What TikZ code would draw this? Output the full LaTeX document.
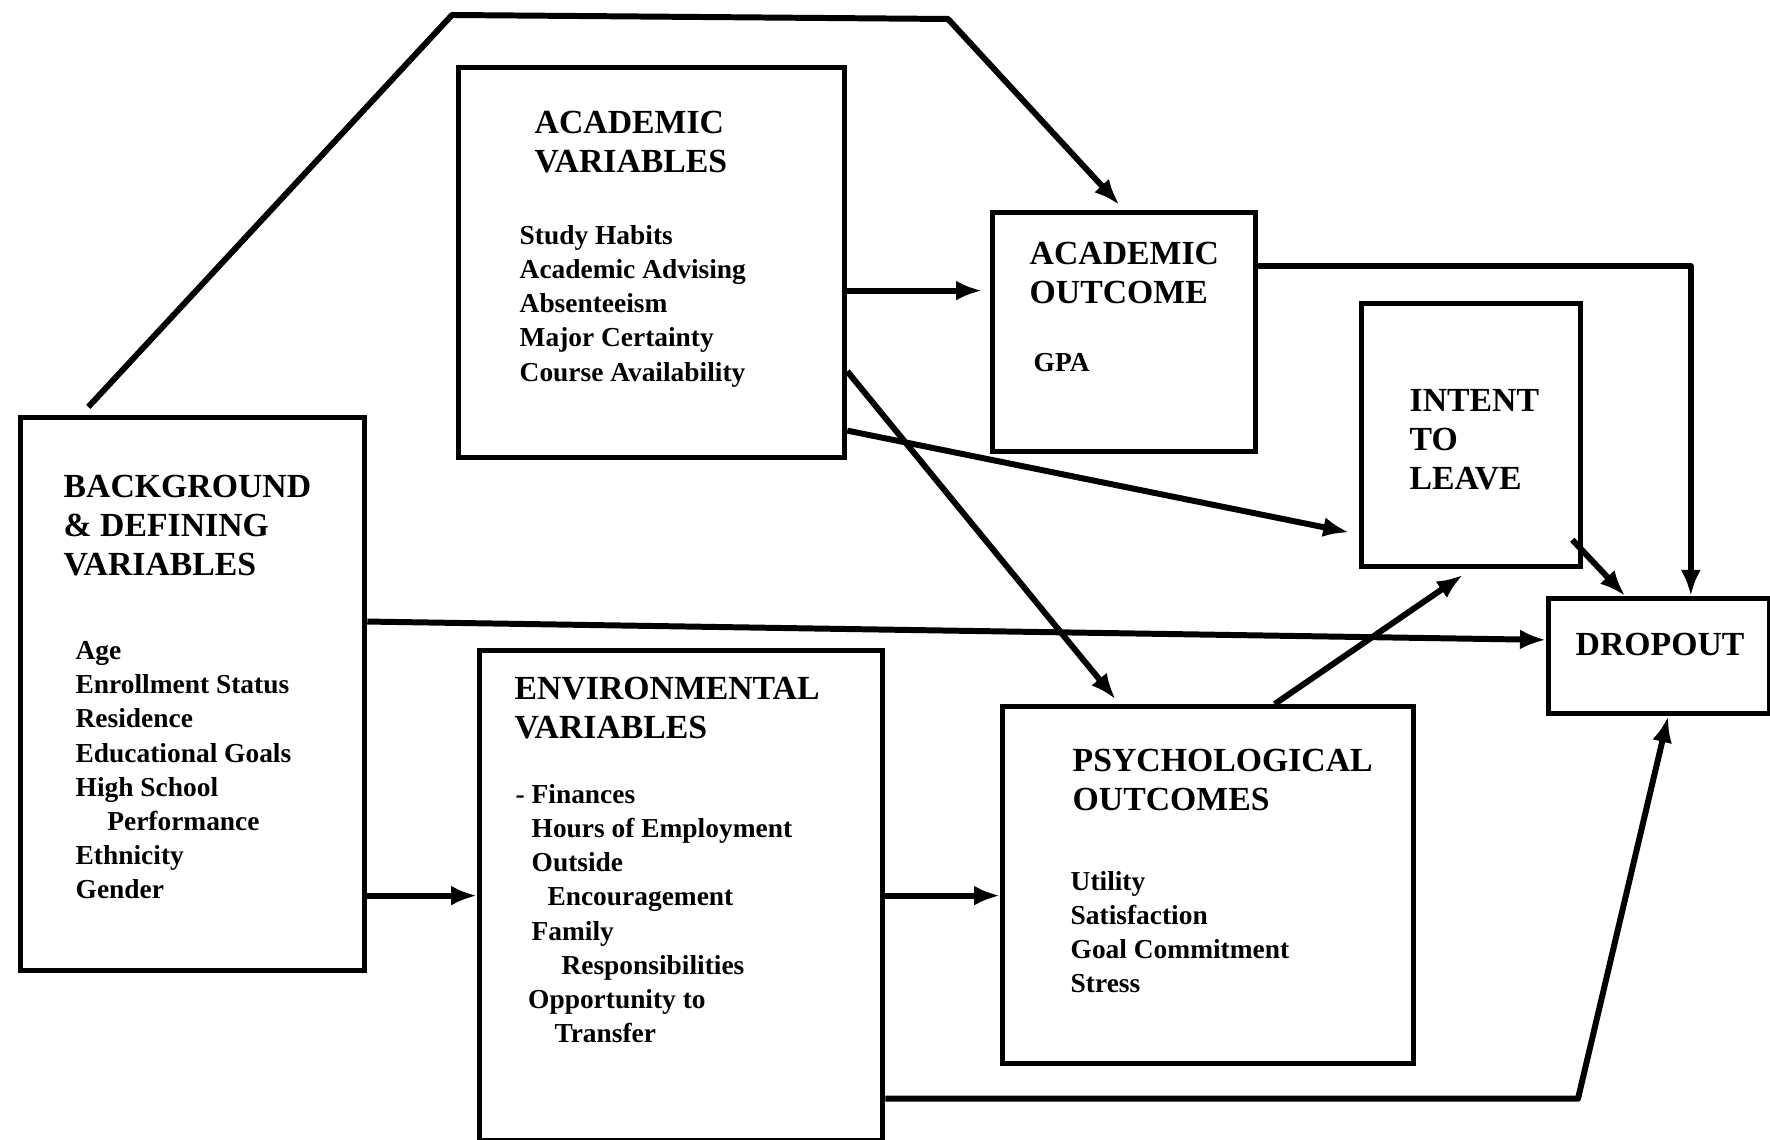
\documentclass[tikz,border=0pt]{standalone}
\usepackage{fontspec}
\setmainfont{Liberation Serif}
\usetikzlibrary{arrows.meta,calc}

\tikzset{
  box/.style={draw, line width=1.5pt, inner sep=0pt, anchor=north west},
  head/.style={anchor=north west, inner sep=0pt, align=left, font=\fontsize{9.6}{11.1}\selectfont\bfseries},
  item/.style={anchor=north west, inner sep=0pt, align=left, font=\fontsize{7.8}{9.7}\selectfont\bfseries},
  arr/.style={line width=1.7pt, line join=round, -{Latex[length=2.6mm,width=2mm]}}
}

\begin{document}
\begin{tikzpicture}[x=0.1mm, y=-0.1mm]
  \useasboundingbox (0,0) rectangle (1770,1140);

  % boxes
  \node[box, minimum width=34.4mm, minimum height=55.3mm] (bg)  at (18,415)   {};
  \node[box, minimum width=38.6mm, minimum height=39.0mm] (acv) at (456,65)   {};
  \node[box, minimum width=26.3mm, minimum height=23.9mm] (aco) at (990,210)  {};
  \node[box, minimum width=21.9mm, minimum height=26.3mm] (itl) at (1359,301) {};
  \node[box, minimum width=22.1mm, minimum height=11.5mm] (drp) at (1546,596) {};
  \node[box, minimum width=40.3mm, minimum height=49.0mm] (env) at (477,648)  {};
  \node[box, minimum width=41.1mm, minimum height=35.7mm] (psy) at (1000,704) {};

  % texts
  \node[head] (bgh) at (63,474) {BACKGROUND\\\& DEFINING\\VARIABLES};
  \node[item] (bgi) at (75,641) {Age\\Enrollment Status\\Residence\\Educational Goals\\High School\\\hspace*{9pt}Performance\\Ethnicity\\Gender};
  \node[head] (acvh) at (534,110) {ACADEMIC\\VARIABLES};
  \node[item] (acvi) at (519,225) {Study Habits\\Academic Advising\\Absenteeism\\Major Certainty\\Course Availability};
  \node[head] (acoh) at (1029,241) {ACADEMIC\\OUTCOME};
  \node[item] (acoi) at (1033,353) {GPA};
  \node[head] (itlh) at (1409,389) {INTENT\\TO\\LEAVE};
  \node[head] (drph) at (1575,632) {DROPOUT};
  \node[head] (envh) at (514,676) {ENVIRONMENTAL\\VARIABLES};
  \node[item] (envi) at (531,784) {\llap{- }Finances\\Hours of Employment\\Outside\\\hspace*{4.5pt}Encouragement\\Family\\\hspace*{8.5pt}Responsibilities\\\hspace*{-1pt}Opportunity to\\\hspace*{6.5pt}Transfer};
  \node[head] (psyh) at (1072,748) {PSYCHOLOGICAL\\OUTCOMES};
  \node[item] (psyi) at (1070,871) {Utility\\Satisfaction\\Goal Commitment\\Stress};

  % bends
  \coordinate (t1) at (452,15);
  \coordinate (t2) at (948,19);
  \coordinate (c3) at (1578,1097);
  \coordinate (ao) at ($(aco.north west)!0.33!(aco.south west)$);
  \coordinate (e1) at ($(env.north east)!0.91!(env.south east)$);

  % connectors
  \draw[arr, shorten <=1.1mm, shorten >=0.7mm] ($(bg.north west)!0.18!(bg.north east)$) -- (t1) -- (t2) -- (aco.north);
  \draw[arr, shorten >=0.8mm] (acv.east |- ao) -- (ao);
  \draw[arr, shorten >=1mm] ($(acv.north east)!0.925!(acv.south east)$) -- ($(itl.north west)!0.87!(itl.south west)$);
  \draw[arr, shorten >=0.6mm] ($(acv.north east)!0.775!(acv.south east)$) -- ($(psy.north west)!0.287!(psy.north east)$);
  \draw[arr] ($(aco.north east)!0.23!(aco.south east)$) -| ($(drp.north west)!0.64!(drp.north east)$);
  \draw[arr] ($(itl.north east)!0.89!(itl.south east)+(-11,0)$) -- ($(drp.north west)!0.35!(drp.north east)$);
  \draw[arr] ($(bg.north east)!0.37!(bg.south east)$) -- ($(drp.north west)!0.365!(drp.south west)$);
  \draw[arr, shorten >=1mm] ($(psy.north west)!0.66!(psy.north east)$) -- (itl.south);
  \draw[arr] (env.west -| bg.east) -- (env.west);
  \draw[arr] (env.east) -- (env.east -| psy.west);
  \draw[arr] (e1) -- (e1 -| c3) -- ($(drp.south west)!0.54!(drp.south east)$);
\end{tikzpicture}
\end{document}
